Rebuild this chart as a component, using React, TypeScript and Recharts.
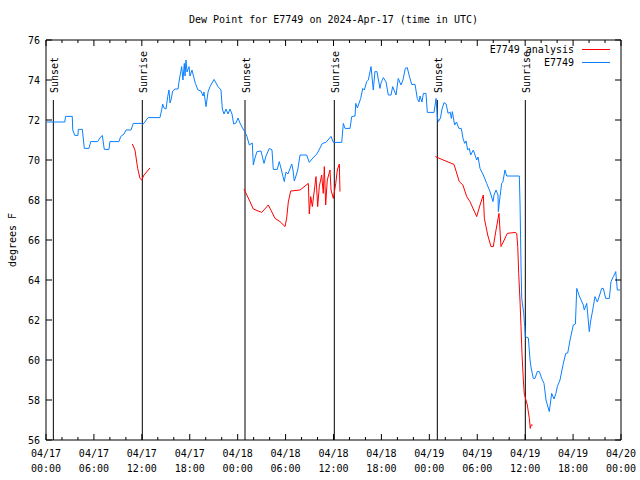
import { LineChart, Line, XAxis, YAxis, ReferenceLine, ReferenceArea } from 'recharts'

// hours since 04/17 00:00 UTC, dew point in F
const E7749: [number, number][] = [
  [0.1, 71.9], [2.35, 71.9], [2.45, 72.18], [3.29, 72.18], [3.35, 71.5], [3.6, 71.23], [4.0, 71.23],
  [4.05, 71.53], [4.55, 71.53], [4.8, 70.58], [5.38, 70.58], [5.6, 70.92], [6.47, 70.92], [6.75, 71.1],
  [7.05, 71.23], [7.3, 70.53], [7.89, 70.53], [8.0, 70.92], [9.14, 70.92], [9.35, 71.17], [9.77, 71.3],
  [10.02, 71.5], [10.64, 71.5], [10.93, 71.83], [11.98, 71.83], [12.1, 71.78], [12.3, 71.85],
  [12.55, 72.0], [12.8, 72.12], [14.27, 72.12], [14.5, 72.53], [14.6, 72.8], [14.78, 72.6],
  [15.03, 72.55], [15.24, 73.17], [15.4, 73.5], [15.53, 72.85], [15.65, 73.0], [15.87, 73.45],
  [16.15, 73.55], [16.53, 73.55], [16.69, 74.0], [16.99, 74.67], [17.15, 74.0], [17.32, 74.83],
  [17.41, 74.2], [17.53, 75.0], [17.66, 74.4], [17.91, 74.67], [18.03, 74.2], [18.28, 74.5],
  [18.53, 74.1], [18.7, 73.83], [19.03, 73.5], [19.41, 73.45], [19.66, 73.2], [19.78, 73.4],
  [20.04, 72.67], [20.29, 73.4], [20.54, 73.67], [21.04, 74.03], [21.29, 73.85], [21.54, 73.67],
  [21.91, 73.5], [22.08, 72.55], [22.29, 72.3], [22.54, 72.55], [22.79, 72.3], [23.04, 72.55],
  [23.29, 72.3], [23.5, 71.8], [23.79, 71.85], [24.04, 72.1], [24.29, 71.85], [24.67, 71.55],
  [24.92, 71.4], [25.17, 71.17], [25.46, 70.75], [25.83, 70.85], [25.96, 69.75], [26.17, 70.1],
  [26.42, 70.42], [26.92, 70.45], [27.3, 69.83], [27.55, 70.2], [27.96, 70.58], [28.3, 70.5],
  [28.46, 69.53], [28.96, 69.53], [29.21, 69.92], [29.42, 69.6], [29.68, 69.17], [29.84, 68.92],
  [30.05, 69.4], [30.3, 69.3], [30.77, 69.8], [30.93, 69.5], [31.09, 68.95], [31.3, 69.2],
  [31.52, 69.5], [31.81, 70.25], [32.64, 70.25], [32.97, 69.88], [33.31, 70.05], [33.9, 70.3],
  [34.06, 70.4], [34.6, 70.83], [35.06, 70.88], [35.69, 71.18], [35.98, 70.88], [37.03, 70.88],
  [37.23, 71.83], [37.44, 71.58], [38.07, 71.58], [38.28, 72.17], [38.7, 72.2], [38.79, 72.83],
  [38.99, 72.6], [39.41, 73.08], [39.66, 73.58], [39.86, 73.5], [40.16, 73.92], [40.36, 74.0],
  [40.7, 74.67], [40.98, 73.5], [41.19, 74.42], [41.44, 74.42], [41.82, 73.58], [41.95, 73.85],
  [42.24, 74.12], [42.58, 73.9], [42.86, 73.25], [43.2, 73.25], [43.41, 73.67], [43.58, 73.5],
  [43.83, 73.25], [44.11, 74.08], [44.45, 73.75], [44.7, 74.0], [44.99, 74.58], [45.24, 74.62],
  [45.46, 74.25], [45.79, 73.78], [46.21, 73.78], [46.49, 73.08], [46.71, 72.9], [46.83, 73.2],
  [47.08, 72.9], [47.25, 73.33], [47.58, 73.33], [47.75, 72.38], [48.59, 72.38], [48.84, 73.08],
  [49.0, 72.17], [49.13, 71.92], [49.4, 72.1], [49.56, 72.5], [49.84, 72.87], [50.1, 72.8],
  [50.35, 72.33], [50.6, 72.4], [50.76, 72.08], [50.88, 72.42], [51.17, 71.75], [51.4, 71.9],
  [51.7, 71.58], [52.0, 71.58], [52.22, 71.08], [52.43, 70.83], [52.6, 70.95], [52.8, 70.5],
  [53.0, 70.58], [53.18, 70.25], [53.51, 70.5], [53.93, 70.0], [54.1, 70.15], [54.35, 69.58],
  [54.76, 69.25], [55.18, 68.83], [55.6, 68.42], [55.97, 67.92], [56.1, 68.25], [56.35, 68.5],
  [56.6, 68.25], [56.64, 67.42], [56.85, 68.17], [57.06, 68.83], [57.22, 68.92], [57.47, 69.5],
  [57.69, 69.2], [59.27, 69.2], [59.36, 67.75], [59.48, 64.75], [59.57, 63.08], [59.82, 62.33],
  [59.94, 61.67], [60.02, 61.17], [60.4, 61.1], [60.61, 60.0], [60.75, 59.6], [61.02, 59.08],
  [61.23, 59.08], [61.52, 59.42], [61.77, 59.42], [62.07, 59.08], [62.36, 58.83], [62.61, 58.0],
  [63.02, 57.42], [63.32, 58.33], [63.61, 58.05], [63.85, 58.33], [64.03, 58.67], [64.36, 59.0],
  [64.78, 59.83], [65.08, 60.33], [65.33, 60.35], [65.62, 61.0], [66.03, 61.75], [66.29, 61.8],
  [66.46, 63.58], [66.78, 63.2], [67.28, 62.75], [67.4, 62.5], [67.71, 62.83], [68.03, 61.42],
  [68.2, 61.95], [68.46, 62.5], [68.74, 63.17], [69.04, 62.9], [69.37, 63.3], [69.58, 63.58],
  [69.79, 63.58], [70.08, 63.08], [70.54, 63.08], [70.75, 63.92], [71.04, 64.17], [71.34, 64.42],
  [71.54, 63.5], [71.9, 63.5],
]

// null = no analysis (gap)
const ANALYSIS: [number, number | null][] = [
  [10.81, 70.8], [11.14, 70.5], [11.48, 69.58], [11.77, 69.08], [11.98, 69.0], [12.27, 69.25],
  [12.81, 69.5], [13.02, 69.6],
  [18.0, null],
  [24.79, 68.55], [25.54, 67.92], [25.96, 67.55], [27.01, 67.38], [27.84, 67.75], [28.68, 67.08],
  [29.3, 66.92], [29.93, 66.67], [30.14, 67.1], [30.34, 67.9], [30.64, 68.45], [31.81, 68.5],
  [32.85, 68.83], [32.97, 67.3], [33.15, 68.17], [33.35, 67.67], [33.81, 69.17], [34.02, 67.67],
  [34.22, 68.67], [34.52, 69.25], [34.72, 68.33], [34.85, 69.67], [35.02, 67.75], [35.22, 69.0],
  [35.56, 69.5], [35.69, 68.5], [35.98, 68.08], [36.28, 68.83], [36.48, 69.5], [36.73, 69.8],
  [36.81, 68.42],
  [42.0, null],
  [48.75, 70.17], [49.75, 70.0], [51.09, 69.78], [51.75, 68.92], [52.2, 68.75], [52.68, 68.17],
  [53.09, 67.92], [53.93, 67.17], [54.35, 67.75], [54.76, 68.25], [54.89, 67.08], [55.31, 66.25],
  [55.72, 65.67], [56.01, 65.67], [56.35, 66.5], [56.72, 67.33], [56.97, 65.67], [57.26, 65.9],
  [57.76, 66.33], [58.73, 66.38], [58.94, 66.33], [59.07, 65.67], [59.19, 64.33], [59.35, 63.0],
  [59.48, 61.67], [59.6, 60.33], [59.77, 59.0], [59.89, 58.3], [60.1, 58.0], [60.27, 57.75],
  [60.52, 57.08], [60.64, 56.58], [60.73, 56.75], [60.94, 56.75],
]

const SUN_EVENTS: [number, string][] = [
  [0.92, 'Sunset'], [12.06, 'Sunrise'], [24.92, 'Sunset'],
  [36.1, 'Sunrise'], [49.0, 'Sunset'], [60.02, 'Sunrise'],
]

const X_TICKS = [0, 2, 4, 6, 8, 10, 12, 14, 16, 18, 20, 22, 24, 26, 28, 30, 32, 34, 36, 38, 40, 42, 44, 46, 48, 50, 52, 54, 56, 58, 60, 62, 64, 66, 68, 70, 72]
const Y_TICKS = [56, 58, 60, 62, 64, 66, 68, 70, 72, 74, 76]
const START_DAY = 17

const FONT = '"DejaVu Sans Mono", monospace'
const RED = '#ff0000'
const BLUE = '#0a80ff'
const TOP = 40
const BOTTOM = 440
const LEFT = 46
const RIGHT = 621

const stationData = E7749.map(([h, v]) => ({ h, v }))
const analysisData = ANALYSIS.map(([h, v]) => ({ h, v }))

const pad = (n: number) => (n < 10 ? '0' + n : '' + n)

function XTick({ x, payload }: any) {
  const h = payload.value
  const major = h % 6 === 0
  const len = major ? 6 : 3
  const day = START_DAY + Math.floor(h / 24)
  return (
    <g>
      <line x1={x} x2={x} y1={BOTTOM} y2={BOTTOM - len} stroke="#000" />
      <line x1={x} x2={x} y1={TOP} y2={TOP + len} stroke="#000" />
      {major && (
        <text textAnchor="middle" fontSize={10} fontFamily={FONT} fill="#000">
          <tspan x={x} y={457}>{`04/${pad(day)}`}</tspan>
          <tspan x={x} y={472}>{`${pad(h % 24)}:00`}</tspan>
        </text>
      )}
    </g>
  )
}

function YTick({ y, payload }: any) {
  return (
    <g>
      <line x1={LEFT} x2={LEFT + 6} y1={y} y2={y} stroke="#000" />
      <line x1={RIGHT} x2={RIGHT - 6} y1={y} y2={y} stroke="#000" />
      <text x={40} y={y + 3.5} textAnchor="end" fontSize={10} fontFamily={FONT} fill="#000">
        {payload.value}
      </text>
    </g>
  )
}

function sunLabel(text: string) {
  return (props: any) => {
    const vb = props.viewBox || {}
    const x = vb.x ?? 0
    const y = vb.y ?? 100
    return (
      <text
        transform={`translate(${x + 5}, ${y - 7}) rotate(-90)`}
        fontSize={10}
        fontFamily={FONT}
        fill="#000"
      >
        {text}
      </text>
    )
  }
}

const yLabel = () => (
  <text
    x={12}
    y={240}
    transform="rotate(-90 12 240)"
    textAnchor="middle"
    dominantBaseline="central"
    fontSize={10}
    fontFamily={FONT}
    fill="#000"
  >
    degrees F
  </text>
)

export default function App() {
  return (
    <div style={{ position: 'absolute', left: 0, top: 0, width: 640, height: 480, background: '#fff' }}>
      <div
        style={{
          position: 'absolute', left: LEFT, top: 14, width: RIGHT - LEFT, textAlign: 'center',
          fontFamily: FONT, fontSize: 10, color: '#000',
        }}
      >
        Dew Point for E7749 on 2024-Apr-17 (time in UTC)
      </div>
      <LineChart width={640} height={480} margin={{ top: TOP, right: 640 - RIGHT, bottom: 0, left: 0 }}>
        <XAxis
          type="number"
          dataKey="h"
          domain={[0, 72]}
          ticks={X_TICKS}
          interval={0}
          tick={<XTick />}
          tickLine={false}
          axisLine={false}
          height={40}
          allowDataOverflow
        />
        <YAxis
          type="number"
          domain={[56, 76]}
          ticks={Y_TICKS}
          interval={0}
          tick={<YTick />}
          tickLine={false}
          axisLine={false}
          width={LEFT}
          label={yLabel}
          allowDataOverflow
        />
        <ReferenceArea x1={0} x2={72} y1={56} y2={76} fill="none" stroke="#000" strokeWidth={1} />
        {SUN_EVENTS.map(([h, name]) => (
          <ReferenceLine
            key={h}
            segment={[{ x: h, y: 56 }, { x: h, y: 73 }]}
            stroke="#000"
            strokeWidth={1}
            label={sunLabel(name)}
          />
        ))}
        <Line
          data={analysisData}
          dataKey="v"
          type="linear"
          stroke={RED}
          strokeWidth={1}
          dot={false}
          activeDot={false}
          isAnimationActive={false}
        />
        <Line
          data={stationData}
          dataKey="v"
          type="linear"
          stroke={BLUE}
          strokeWidth={1}
          dot={false}
          activeDot={false}
          isAnimationActive={false}
        />
      </LineChart>
      <div style={{ position: 'absolute', left: 380, top: 43, width: 230, fontFamily: FONT, fontSize: 10, color: '#000' }}>
        {[['E7749 analysis', RED], ['E7749', BLUE]].map(([name, color]) => (
          <div key={name} style={{ display: 'flex', justifyContent: 'flex-end', alignItems: 'center', height: 13 }}>
            <span>{name}</span>
            <span style={{ display: 'inline-block', width: 28, height: 0, borderTop: `1px solid ${color}`, marginLeft: 8 }} />
          </div>
        ))}
      </div>
    </div>
  )
}
